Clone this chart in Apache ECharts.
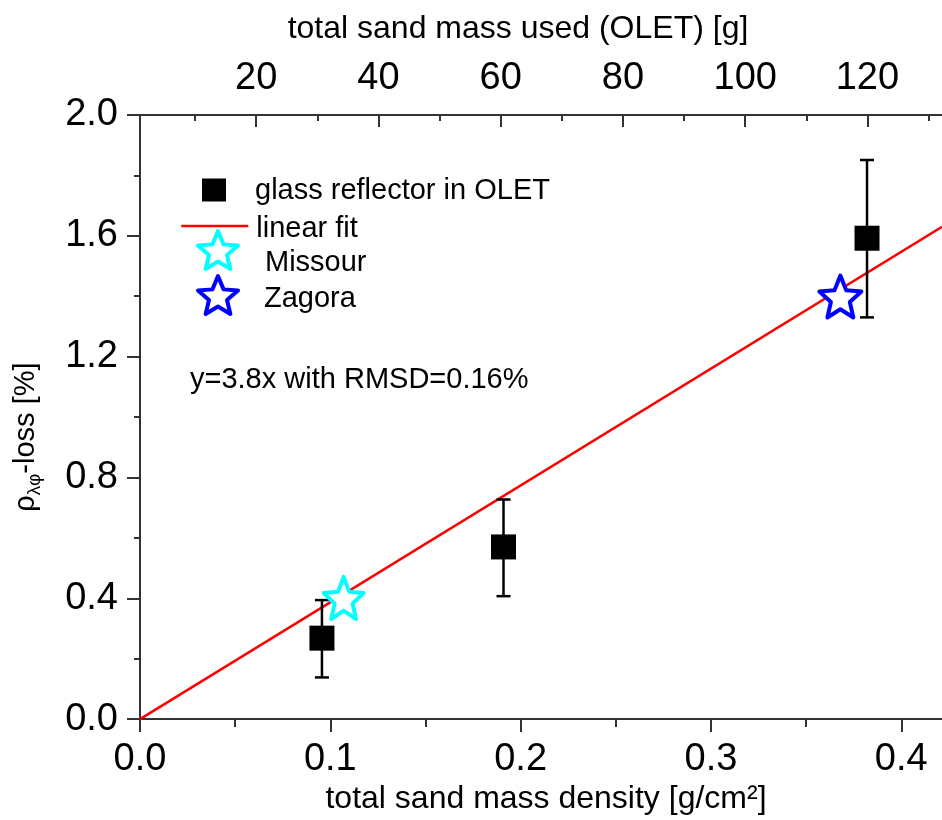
<!DOCTYPE html>
<html>
<head>
<meta charset="utf-8">
<script src="https://cdn.jsdelivr.net/npm/echarts@6/dist/echarts.min.js"></script>
<style>html,body{margin:0;padding:0;background:#fff}#c{width:942px;height:820px}</style>
</head>
<body>
<div id="c"></div>
<script>
// ---- data ----
const glassX = [0.0956, 0.191, 0.382];
const glassY = [0.268, 0.570, 1.592];
const glassLow = [0.138, 0.407, 1.330];
const glassHigh = [0.394, 0.727, 1.851];
const missour = [0.107, 0.401];
const zagora = [0.368, 1.399];
const fitLine = [[0, 0], [0.4214, 1.63]];
const xTicks = [0, 0.1, 0.2, 0.3, 0.4];
const xMinorTicks = [0.05, 0.15, 0.25, 0.35];
const topTicks = [20, 40, 60, 80, 100, 120];
const topMinorTicks = [10, 30, 50, 70, 90, 110, 130];
const xRange = [0, 0.4214];
const topRange = [0.98, 132.2];

const FONT = '"Liberation Sans", Arial, sans-serif';
const STAR = 'path://M50 0 L63.23 31.8 L97.55 34.55 L71.4 56.95 L79.39 90.45 L50 72.5 L20.61 90.45 L28.6 56.95 L2.45 34.55 L36.77 31.8 Z';
const AX = '#333';

const glassPts = glassX.map((x, i) => [x, glassY[i]]);
const errRows = glassX.map((x, i) => [x, glassLow[i], glassHigh[i]]);

const chart = echarts.init(document.getElementById('c'), null, {renderer: 'canvas'});
const gridBox = {left: 140, right: 0, top: 115, bottom: 100, containLabel: false};

function legendItem(name, left, top, w, h, padLeft, boxLH, extra) {
  const o = {
    data: [name], left: left, top: top, padding: 0, itemWidth: w, itemHeight: h,
    selectedMode: false,
    formatter: '{m|{name}}{z| }',
    textStyle: {
      fontSize: 29, color: '#000', fontFamily: FONT, padding: [0, 0, 0, padLeft],
      rich: {
        m: {fontSize: 29, color: '#000', fontFamily: FONT, lineHeight: 30, verticalAlign: 'bottom'},
        z: {fontSize: 10, lineHeight: boxLH}
      }
    }
  };
  return Object.assign(o, extra || {});
}

chart.setOption({
  animation: false,
  textStyle: {fontFamily: FONT},
  grid: [gridBox, Object.assign({}, gridBox)],
  legend: [
    legendItem('glass reflector in OLET', 202, 176, 24, 23, 24, 30),
    legendItem('linear fit', 180, 214, 67, 14, 3, 34, {itemStyle: {opacity: 0}, lineStyle: {color: '#ff0000', width: 2.5}}),
    legendItem('Missour', 196, 229, 40, 42, 22, 54, {itemStyle: {color: '#fff', borderColor: '#00ffff', borderWidth: 4, borderJoin: 'round'}}),
    legendItem('Zagora', 196, 274, 40, 42, 21, 36, {itemStyle: {color: '#fff', borderColor: '#0000ff', borderWidth: 4, borderJoin: 'round'}})
  ],
  graphic: [{
    type: 'text', x: 190, y: 380,
    style: {text: 'y=3.8x with RMSD=0.16%', fontSize: 29, fontFamily: FONT, fill: '#000', verticalAlign: 'middle'}
  }],
  xAxis: [
    {
      gridIndex: 0, type: 'value', position: 'bottom', min: xRange[0], max: xRange[1], interval: 0.1,
      name: 'total sand mass density [g/cm²]', nameLocation: 'middle', nameGap: 62,
      nameTextStyle: {fontSize: 32, color: '#000', fontFamily: FONT, padding: [0, 0, 0, 10]},
      axisLine: {show: true, onZero: false, lineStyle: {color: AX, width: 2}},
      axisTick: {show: true, inside: false, length: 13, customValues: xTicks, lineStyle: {color: AX, width: 2}},
      axisLabel: {fontSize: 38, color: '#000', margin: 21, showMaxLabel: false, formatter: v => v.toFixed(1)},
      splitLine: {show: false}
    },
    {
      gridIndex: 0, type: 'value', position: 'top', min: topRange[0], max: topRange[1],
      name: 'total sand mass used (OLET) [g]', nameLocation: 'middle', nameGap: 70,
      nameTextStyle: {fontSize: 32, color: '#000', fontFamily: FONT, padding: [0, 46, 0, 0]},
      axisLine: {show: true, onZero: false, lineStyle: {color: AX, width: 2}},
      axisTick: {show: true, inside: true, length: 12, customValues: topTicks, lineStyle: {color: AX, width: 2}},
      axisLabel: {fontSize: 38, color: '#000', margin: 17, customValues: topTicks},
      splitLine: {show: false}
    },
    {
      gridIndex: 1, type: 'value', position: 'top', min: topRange[0], max: topRange[1],
      axisLine: {show: false, onZero: false},
      axisTick: {show: true, inside: true, length: 6, customValues: topMinorTicks, lineStyle: {color: AX, width: 2}},
      axisLabel: {show: false}, splitLine: {show: false}
    },
    {
      gridIndex: 1, type: 'value', position: 'bottom', min: xRange[0], max: xRange[1],
      axisLine: {show: false, onZero: false},
      axisTick: {show: true, inside: false, length: 7, customValues: xMinorTicks, lineStyle: {color: AX, width: 2}},
      axisLabel: {show: false}, splitLine: {show: false}
    }
  ],
  yAxis: [
    {
      gridIndex: 0, type: 'value', min: 0, max: 2, interval: 0.4,
      name: '{r|ρ}{s|λφ}{r|-loss [%]}', nameLocation: 'middle', nameGap: 96, nameRotate: 90,
      nameTextStyle: {
        padding: [0, 40, 0, 0],
        rich: {
          r: {fontSize: 29, color: '#000', fontFamily: FONT, lineHeight: 36},
          s: {fontSize: 19, color: '#000', fontFamily: FONT, lineHeight: 18, verticalAlign: 'bottom'}
        }
      },
      axisLine: {show: true, onZero: false, lineStyle: {color: AX, width: 2}},
      axisTick: {show: true, inside: false, length: 13, lineStyle: {color: AX, width: 2}},
      minorTick: {show: true, splitNumber: 2, length: 6, lineStyle: {color: AX, width: 2}},
      axisLabel: {fontSize: 38, color: '#000', margin: 22, formatter: v => v.toFixed(1)},
      splitLine: {show: false}, minorSplitLine: {show: false}
    },
    {gridIndex: 1, type: 'value', min: 0, max: 2, show: false}
  ],
  series: [
    {
      name: 'linear fit', type: 'line', xAxisIndex: 0, yAxisIndex: 0,
      data: fitLine, symbol: 'none', lineStyle: {color: '#ff0000', width: 2.5}, itemStyle: {color: '#ff0000'}, z: 2
    },
    {
      name: 'errorbars', type: 'custom', xAxisIndex: 0, yAxisIndex: 0, data: errRows,
      encode: {x: 0, y: [1, 2]}, z: 3,
      renderItem: function (params, api) {
        const x = api.value(0), lo = api.value(1), hi = api.value(2);
        const a = api.coord([x, hi]), b = api.coord([x, lo]);
        const cw = 7;
        const st = {stroke: '#000', lineWidth: 2.5};
        return {type: 'group', children: [
          {type: 'line', shape: {x1: a[0], y1: a[1], x2: b[0], y2: b[1]}, style: st},
          {type: 'line', shape: {x1: a[0] - cw, y1: a[1], x2: a[0] + cw, y2: a[1]}, style: st},
          {type: 'line', shape: {x1: b[0] - cw, y1: b[1], x2: b[0] + cw, y2: b[1]}, style: st}
        ]};
      }
    },
    {
      name: 'glass reflector in OLET', type: 'scatter', xAxisIndex: 0, yAxisIndex: 0,
      data: glassPts, symbol: 'rect', symbolSize: 25, itemStyle: {color: '#000', opacity: 1}, z: 4
    },
    {
      name: 'Missour', type: 'scatter', xAxisIndex: 0, yAxisIndex: 0,
      data: [missour], symbol: STAR, symbolSize: [40, 42],
      itemStyle: {color: '#fff', borderColor: '#00ffff', borderWidth: 4, borderJoin: 'round', opacity: 1}, z: 5
    },
    {
      name: 'Zagora', type: 'scatter', xAxisIndex: 0, yAxisIndex: 0,
      data: [zagora], symbol: STAR, symbolSize: [42, 42],
      itemStyle: {color: '#fff', borderColor: '#0000ff', borderWidth: 4, borderJoin: 'round', opacity: 1}, z: 5
    }
  ]
});
</script>
</body>
</html>
